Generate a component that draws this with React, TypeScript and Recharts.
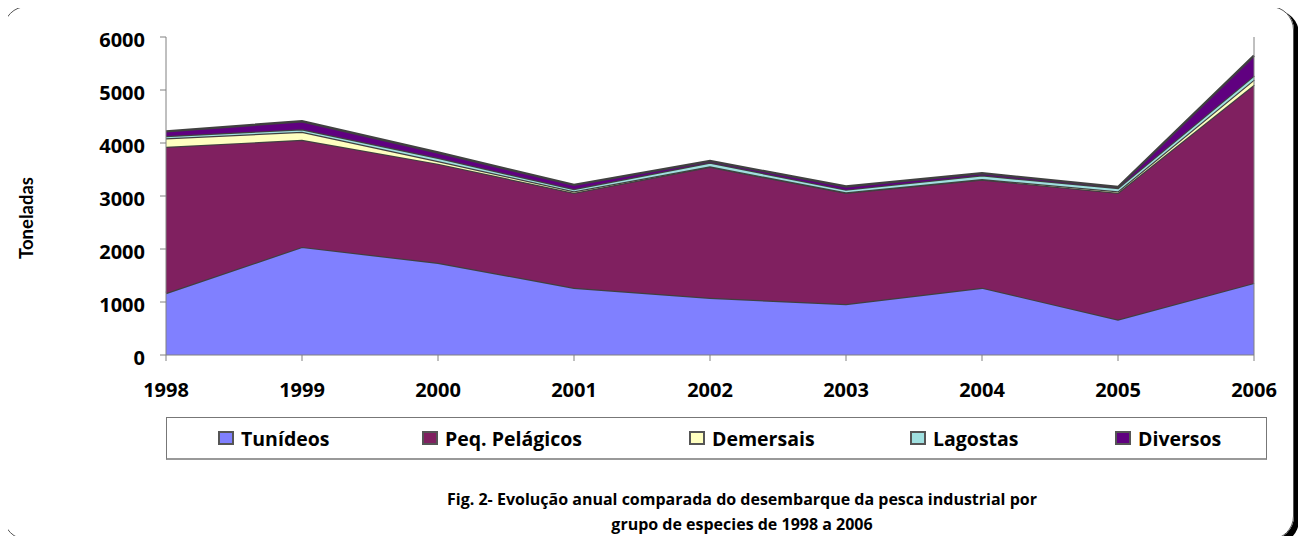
import { AreaChart, Area, XAxis, YAxis, ReferenceLine } from "recharts";

const years = ["1998", "1999", "2000", "2001", "2002", "2003", "2004", "2005", "2006"];
const tunideos = [1170, 2040, 1740, 1270, 1080, 960, 1270, 670, 1360];
const pelagicos = [2760, 2020, 1870, 1790, 2470, 2100, 2040, 2390, 3740];
const demersais = [160, 150, 50, 30, 10, 10, 10, 30, 95];
const lagostas = [40, 50, 60, 40, 70, 50, 70, 60, 75];
const diversos = [90, 150, 100, 80, 30, 60, 40, 20, 380];
const yTicks = [0, 1000, 2000, 3000, 4000, 5000, 6000];

const series = [
    { key: "tunideos", name: "Tunídeos", color: "#8080FF", values: tunideos },
    { key: "pelagicos", name: "Peq. Pelágicos", color: "#802060", values: pelagicos },
    { key: "demersais", name: "Demersais", color: "#FFFFC0", values: demersais },
    { key: "lagostas", name: "Lagostas", color: "#A0E0E0", values: lagostas },
    { key: "diversos", name: "Diversos", color: "#600080", values: diversos },
];

const data = years.map((year, i) => {
    const row: Record<string, string | number> = { year };
    series.forEach((s) => {
        row[s.key] = s.values[i];
    });
    return row;
});

// x of each legend swatch inside the legend box
const legendX = [51, 255, 522, 743, 948];

const tickStyle = { fontFamily: "Open Sans", fontWeight: 700, fontSize: 20, fill: "#000" };

export default function App() {
    return (
        <div style={{ position: "relative", margin: -8, width: 1306, height: 544, background: "#fff" }}>
            <div
                style={{
                    position: "absolute",
                    left: 3,
                    top: 6,
                    width: 1289,
                    height: 532,
                    border: "1px solid #555",
                    borderRadius: 24,
                    boxShadow: "5px 4px 0 #000",
                }}
            />
            <div style={{ position: "absolute", left: 0, top: 0 }}>
                <AreaChart
                    width={1306}
                    height={544}
                    data={data}
                    margin={{ top: 37, right: 52, bottom: 149, left: 0 }}
                >
                    <XAxis
                        dataKey="year"
                        height={40}
                        tick={tickStyle}
                        tickLine={{ stroke: "#808080" }}
                        axisLine={{ stroke: "#808080" }}
                        tickSize={6}
                        tickMargin={22}
                        interval={0}
                    />
                    <YAxis
                        width={166}
                        domain={[0, 6000]}
                        ticks={yTicks}
                        tick={{ ...tickStyle, dy: 3 }}
                        tickLine={{ stroke: "#808080" }}
                        axisLine={{ stroke: "#808080" }}
                        tickSize={6}
                        tickMargin={15}
                        interval={0}
                    />
                    {series.map((s) => (
                        <Area
                            key={s.key}
                            type="linear"
                            dataKey={s.key}
                            name={s.name}
                            stackId="1"
                            fill={s.color}
                            fillOpacity={1}
                            stroke="#404040"
                            strokeWidth={2.4}
                            isAnimationActive={false}
                        />
                    ))}
                    <ReferenceLine x="2006" stroke="#808080" strokeWidth={1} />
                </AreaChart>
            </div>
            <div
                style={{
                    position: "absolute",
                    left: 26,
                    top: 218,
                    transform: "translate(-50%, -50%) rotate(-90deg)",
                    fontFamily: "Lato",
                    fontWeight: 700,
                    fontSize: 18.5,
                    color: "#000",
                    whiteSpace: "nowrap",
                }}
            >
                Toneladas
            </div>
            <div
                style={{
                    position: "absolute",
                    left: 166,
                    top: 417,
                    width: 1101,
                    height: 43,
                    border: "1px solid #777",
                    borderBottom: "2px solid #999",
                    boxSizing: "border-box",
                }}
            >
                {series.map((s, i) => (
                    <div
                        key={s.key}
                        style={{
                            position: "absolute",
                            left: legendX[i],
                            top: 0,
                            height: 40,
                            display: "flex",
                            alignItems: "center",
                            whiteSpace: "nowrap",
                        }}
                    >
                        <span
                            style={{
                                display: "inline-block",
                                width: 12,
                                height: 10,
                                background: s.color,
                                border: "2px solid #555",
                                marginRight: 7,
                            }}
                        />
                        <span style={{ fontFamily: "Open Sans", fontWeight: 700, fontSize: 19.5, color: "#000" }}>
                            {s.name}
                        </span>
                    </div>
                ))}
            </div>
            <div
                style={{
                    position: "absolute",
                    left: 0,
                    top: 487,
                    width: 1484,
                    textAlign: "center",
                    fontFamily: "Open Sans",
                    fontWeight: 700,
                    fontSize: 16,
                    lineHeight: "25px",
                    color: "#000",
                }}
            >
                Fig. 2- Evolução anual comparada do desembarque da pesca industrial por
                <br />
                grupo de especies de 1998 a 2006
            </div>
        </div>
    );
}
